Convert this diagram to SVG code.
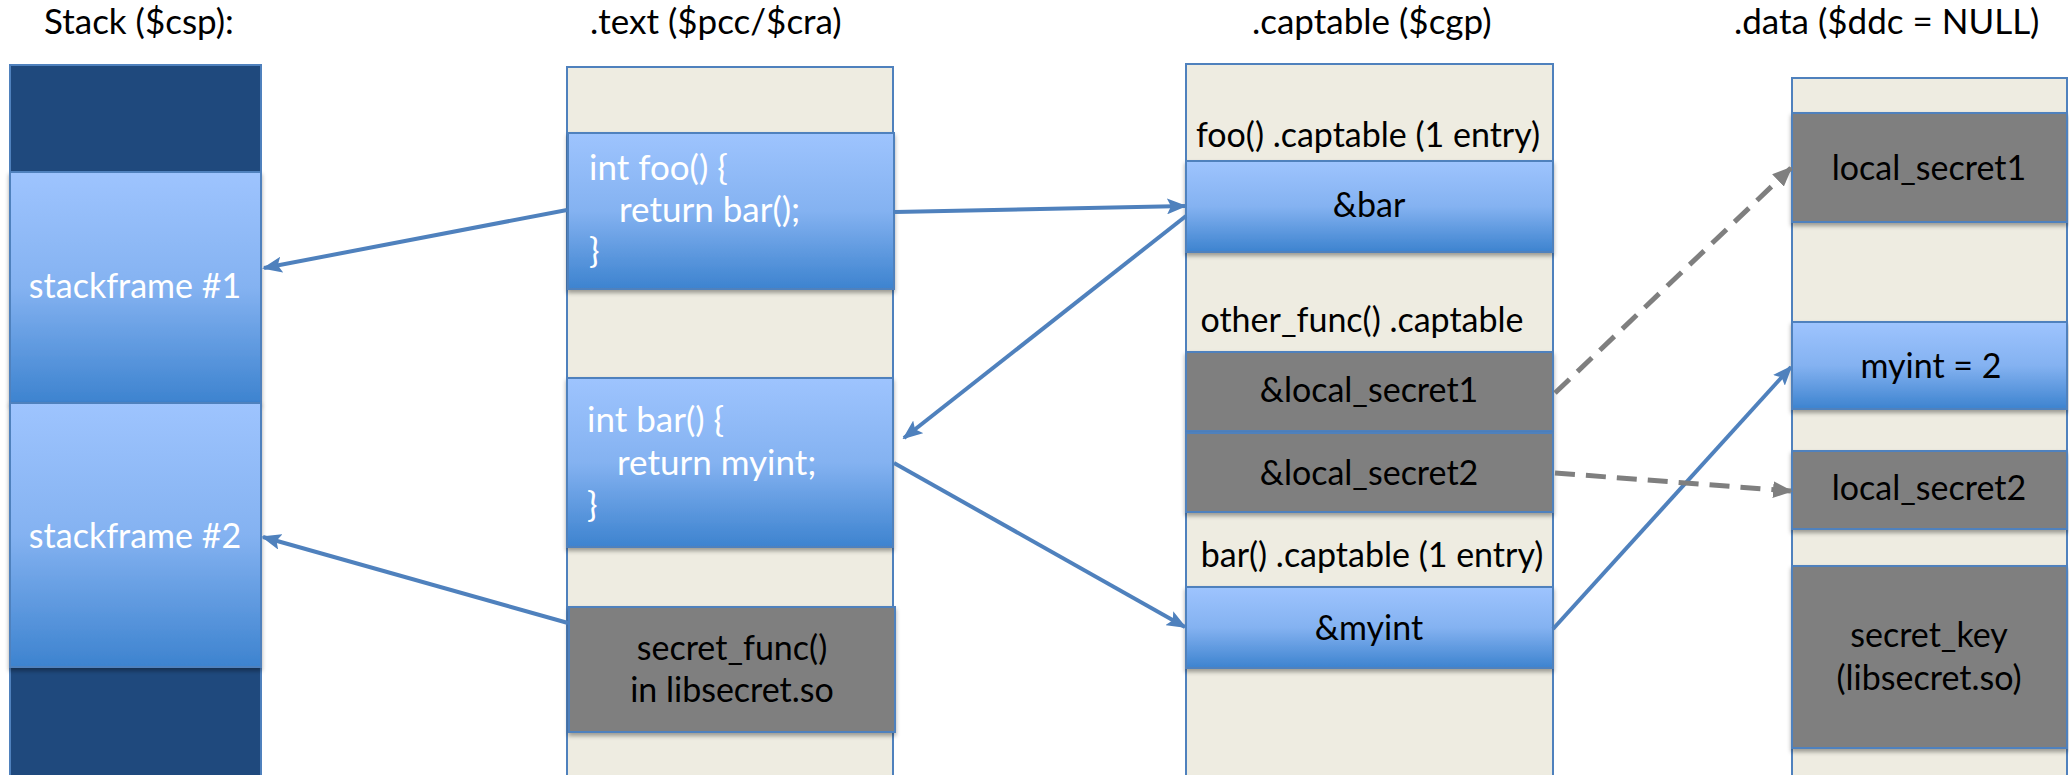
<svg xmlns="http://www.w3.org/2000/svg" width="2069" height="775" viewBox="0 0 2069 775">
<style>
  .col { fill: #EEECE1; stroke: #4F81BD; stroke-width: 2; }
  .blue { fill: url(#blueGrad); stroke: #4F81BD; stroke-width: 2; filter: url(#shadow); }
  .gray { fill: #7F7F7F; stroke: #4F81BD; stroke-width: 2; filter: url(#shadow); }
  .dark { fill: #1F497D; stroke: #4F81BD; stroke-width: 2; }
  text { font-family: Lato, "Open Sans", "Liberation Sans", sans-serif; }
  .title { font-size: 35px; fill: #000; }
  .lbl { font-size: 34px; fill: #000; }
  .wlbl { font-size: 34px; fill: #fff; }
  .code { font-size: 35px; fill: #fff; }
  .c { text-anchor: middle; }
  .conn { fill: none; stroke: #4F81BD; stroke-width: 4; }
  .dash { fill: none; stroke: #7F7F7F; stroke-width: 5; stroke-dasharray: 20 11; }
</style>
<defs>
  <linearGradient id="blueGrad" x1="0" y1="0" x2="0" y2="1">
    <stop offset="0" stop-color="#9EC4FE"/>
    <stop offset="0.5" stop-color="#84B2F1"/>
    <stop offset="1" stop-color="#3D83CF"/>
  </linearGradient>
  <filter id="shadow" x="-5%" y="-5%" width="110%" height="120%">
    <feDropShadow dx="0" dy="3" stdDeviation="2" flood-color="#000" flood-opacity="0.35"/>
  </filter>
  <marker id="arrBlue" markerWidth="5" markerHeight="4" refX="4.5" refY="2" orient="auto" markerUnits="strokeWidth">
    <path d="M0,0 L5,2 L0,4 L1,2 z" fill="#4F81BD"/>
  </marker>
  <marker id="arrGray" markerWidth="4" markerHeight="3.4" refX="3.6" refY="1.7" orient="auto" markerUnits="strokeWidth">
    <path d="M0,0 L4,1.7 L0,3.4 z" fill="#7F7F7F"/>
  </marker>
</defs>
<rect width="2069" height="775" fill="#fff"/>

<!-- titles -->
<g id="titles">
  <text class="title" x="44" y="34">Stack ($csp):</text>
  <text class="title" x="590" y="34">.text ($pcc/$cra)</text>
  <text class="title" x="1252" y="34">.captable ($cgp)</text>
  <text class="title" x="1734" y="34">.data ($ddc = NULL)</text>
</g>

<!-- Stack column -->
<g id="stack">
  <rect class="dark" x="10" y="65" width="251" height="107"/>
  <rect class="dark" x="10" y="667" width="251" height="120"/>
</g>
<g id="stackframe1">
  <rect class="blue" x="10" y="172" width="251" height="231"/>
  <text class="wlbl c" x="135" y="298">stackframe #1</text>
</g>
<g id="stackframe2">
  <rect class="blue" x="10" y="403" width="251" height="264"/>
  <text class="wlbl c" x="135" y="548">stackframe #2</text>
</g>

<!-- .text column -->
<g id="text-section">
  <rect class="col" x="567" y="67" width="326" height="720"/>
</g>
<g id="foo">
  <rect class="blue" x="568" y="133" width="326" height="156"/>
  <text class="code"><tspan x="589" y="180">int foo() {</tspan><tspan x="619" y="222">return bar();</tspan><tspan x="589" y="263">}</tspan></text>
</g>
<g id="bar">
  <rect class="blue" x="567" y="378" width="326" height="169"/>
  <text class="code"><tspan x="587" y="432">int bar() {</tspan><tspan x="617" y="475">return myint;</tspan><tspan x="587" y="517">}</tspan></text>
</g>
<g id="secret_func">
  <rect class="gray" x="569" y="607" width="326" height="125"/>
  <text class="lbl c" x="732" y="660">secret_func()</text>
  <text class="lbl c" x="732" y="702">in libsecret.so</text>
</g>

<!-- .captable column -->
<g id="captable-section">
  <rect class="col" x="1186" y="64" width="367" height="723"/>
  <text class="lbl c" x="1368" y="147">foo() .captable (1 entry)</text>
  <text class="lbl c" x="1362" y="332">other_func() .captable</text>
  <text class="lbl c" x="1372" y="567">bar() .captable (1 entry)</text>
</g>
<g id="cap-bar">
  <rect class="blue" x="1186" y="161" width="367" height="91"/>
  <text class="lbl c" x="1369" y="217">&amp;bar</text>
</g>
<g id="cap-local_secret1">
  <rect class="gray" x="1186" y="352" width="367" height="79"/>
  <text class="lbl c" x="1369" y="402">&amp;local_secret1</text>
</g>
<g id="cap-local_secret2">
  <rect class="gray" x="1186" y="433" width="367" height="79"/>
  <text class="lbl c" x="1369" y="485">&amp;local_secret2</text>
</g>
<g id="cap-myint">
  <rect class="blue" x="1186" y="587" width="367" height="81"/>
  <text class="lbl c" x="1369" y="640">&amp;myint</text>
</g>

<!-- .data column -->
<g id="data-section">
  <rect class="col" x="1792" y="78" width="275" height="709"/>
</g>
<g id="local_secret1">
  <rect class="gray" x="1792" y="113" width="275" height="109"/>
  <text class="lbl c" x="1929" y="180">local_secret1</text>
</g>
<g id="myint">
  <rect class="blue" x="1792" y="322" width="275" height="87"/>
  <text class="lbl c" x="1931" y="378">myint = 2</text>
</g>
<g id="local_secret2">
  <rect class="gray" x="1792" y="451" width="275" height="78"/>
  <text class="lbl c" x="1929" y="500">local_secret2</text>
</g>
<g id="secret_key">
  <rect class="gray" x="1792" y="566" width="275" height="182"/>
  <text class="lbl c" x="1929" y="647">secret_key</text>
  <text class="lbl c" x="1929" y="690">(libsecret.so)</text>
</g>

<!-- connectors -->
<g id="connectors">
  <line class="conn" x1="567" y1="210" x2="264" y2="268" marker-end="url(#arrBlue)"/>
  <line class="conn" x1="568" y1="623" x2="263" y2="537" marker-end="url(#arrBlue)"/>
  <line class="conn" x1="895" y1="212" x2="1185" y2="206" marker-end="url(#arrBlue)"/>
  <line class="conn" x1="1186" y1="216" x2="904" y2="438" marker-end="url(#arrBlue)"/>
  <line class="conn" x1="894" y1="463" x2="1185" y2="627" marker-end="url(#arrBlue)"/>
  <line class="conn" x1="1553" y1="629" x2="1791" y2="367" marker-end="url(#arrBlue)"/>
  <line class="dash" x1="1555" y1="393" x2="1791" y2="168" marker-end="url(#arrGray)"/>
  <line class="dash" x1="1555" y1="473" x2="1791" y2="491" marker-end="url(#arrGray)"/>
</g>
</svg>
